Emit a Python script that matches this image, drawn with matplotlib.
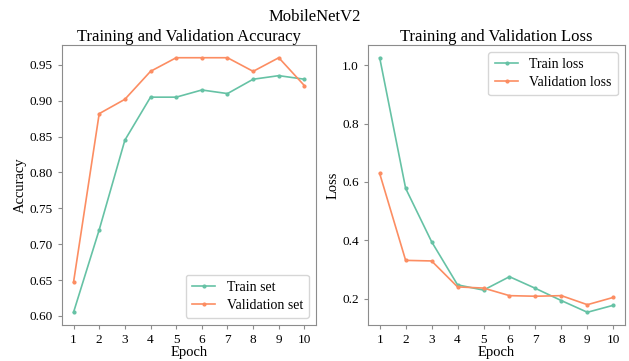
import matplotlib
matplotlib.use("Agg")
import matplotlib.pyplot as plt

plt.rcParams['font.family'] = ['Liberation Serif', 'DejaVu Serif']

epochs = [1, 2, 3, 4, 5, 6, 7, 8, 9, 10]
train_acc = [0.605, 0.720, 0.845, 0.905, 0.905, 0.915, 0.910, 0.930, 0.935, 0.930]
val_acc = [0.647, 0.882, 0.902, 0.941, 0.960, 0.960, 0.960, 0.941, 0.960, 0.921]
train_loss = [1.026, 0.578, 0.395, 0.247, 0.229, 0.275, 0.235, 0.193, 0.153, 0.177]
val_loss = [0.629, 0.331, 0.329, 0.240, 0.236, 0.210, 0.208, 0.210, 0.179, 0.204]

green = '#66c2a5'
orange = '#fc8d62'
edge = '#8c8c8c'

fig = plt.figure(figsize=(6.29, 3.61), dpi=100)
ax1 = fig.add_axes([62/629, 1-325/361, 254/629, 280/361])
ax2 = fig.add_axes([368/629, 1-325/361, 257/629, 280/361])

leg_kw = dict(fontsize=10, handlelength=1.7, labelspacing=0.35, borderpad=0.45)

ax1.plot(epochs, train_acc, color=green, marker='o', markersize=2, lw=1.2, label='Train set')
ax1.plot(epochs, val_acc, color=orange, marker='o', markersize=2, lw=1.2, label='Validation set')
ax1.set_title('Training and Validation Accuracy', fontsize=12, pad=3)
ax1.set_xlabel('Epoch', fontsize=10.5, labelpad=0)
ax1.set_ylabel('Accuracy', fontsize=10.5, labelpad=2)
ax1.legend(loc='lower right', **leg_kw)

ax2.plot(epochs, train_loss, color=green, marker='o', markersize=2, lw=1.2, label='Train loss')
ax2.plot(epochs, val_loss, color=orange, marker='o', markersize=2, lw=1.2, label='Validation loss')
ax2.set_title('Training and Validation Loss', fontsize=12, pad=3)
ax2.set_xlabel('Epoch', fontsize=10.5, labelpad=0)
ax2.set_ylabel('Loss', fontsize=10.5, labelpad=2)
ax2.set_yticks([0.2, 0.4, 0.6, 0.8, 1.0])
ax2.legend(loc='upper right', **leg_kw)

for ax in (ax1, ax2):
    ax.set_xticks(epochs)
    ax.tick_params(labelsize=9.5, color=edge, length=3)
    for s in ax.spines.values():
        s.set_color(edge)

fig.suptitle('MobileNetV2', fontsize=12, y=0.975)
fig.savefig('out.png', dpi=100)
